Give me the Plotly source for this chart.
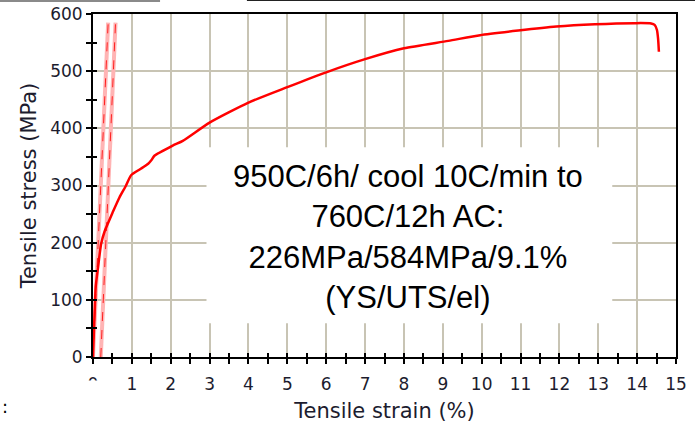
import plotly.graph_objects as go

# Main stress-strain curve
strain = [0, 0.02, 0.05, 0.07, 0.13, 0.21, 0.30, 0.38, 0.50, 0.68, 0.85, 0.98, 1.20, 1.42,
          1.50, 1.58, 2.06, 2.31, 3.0, 4.0, 5.0, 6.0, 7.0, 8.0, 9.14, 9.96, 10.94, 11.92,
          12.91, 13.93, 14.36, 14.45, 14.51, 14.54, 14.56]
stress = [0, 40, 90, 123, 157, 198, 220, 233, 252, 279, 300, 318, 328, 338,
          344, 352, 370, 378, 410, 445, 472, 498, 521, 540, 553, 563, 571, 578,
          582, 584, 583.5, 581, 572, 556, 534]

# Elastic (modulus) lines
lineA_x = [0.0, 0.39]
lineA_y = [0, 585]
lineB_x = [0.20, 0.58]
lineB_y = [0, 585]

x_ticks = list(range(0, 16))
y_ticks = [0, 100, 200, 300, 400, 500, 600]

label_text = "950C/6h/ cool 10C/min to<br>760C/12h AC:<br>226MPa/584MPa/9.1%<br>(YS/UTS/el)"

fig = go.Figure()
for lx, ly in [(lineA_x, lineA_y), (lineB_x, lineB_y)]:
    fig.add_trace(go.Scatter(x=lx, y=ly, mode="lines",
                             line=dict(color="#ffb4b4", width=4), hoverinfo="skip", showlegend=False))
    fig.add_trace(go.Scatter(x=lx, y=ly, mode="lines",
                             line=dict(color="#ff2020", width=1, dash="dash"), hoverinfo="skip", showlegend=False))
fig.add_trace(go.Scatter(x=strain, y=stress, mode="lines",
                         line=dict(color="#ff0000", width=2.5, shape="spline", smoothing=0.6),
                         showlegend=False))
# dummy trace for overlay axes (crossing ticks)
fig.add_trace(go.Scatter(x=[0], y=[0], xaxis="x2", yaxis="y2", mode="markers",
                         marker=dict(opacity=0), hoverinfo="skip", showlegend=False))

tickfont = dict(family="DejaVu Sans", size=17, color="#1c1c2e")
titlefont = dict(family="DejaVu Sans", size=21, color="#1c1c2e")
gridc = "#c8c4b4"

fig.update_layout(
    width=695, height=426,
    margin=dict(l=93, r=19, t=14, b=69),
    paper_bgcolor="white", plot_bgcolor="white",
    xaxis=dict(range=[0, 15], tickvals=x_ticks, ticktext=[str(v) for v in x_ticks],
               automargin=False,
               showgrid=True, gridcolor=gridc, gridwidth=2,
               showline=True, linecolor="black", linewidth=2, mirror=True,
               ticks="outside", ticklen=5, tickwidth=2, tickcolor="black",
               minor=dict(dtick=0.5, tick0=0, ticks="outside", ticklen=5, tickwidth=2,
                          tickcolor="black", showgrid=False),
               tickfont=tickfont, zeroline=False, ticklabelstandoff=6,
               title=dict(text="Tensile strain (%)", font=titlefont, standoff=10)),
    yaxis=dict(range=[0, 600], tickvals=y_ticks, automargin=False,
               showgrid=True, gridcolor=gridc, gridwidth=2,
               showline=True, linecolor="black", linewidth=2, mirror=True,
               ticks="outside", ticklen=5, tickwidth=2, tickcolor="black",
               minor=dict(dtick=50, tick0=0, ticks="outside", ticklen=5, tickwidth=2,
                          tickcolor="black", showgrid=False),
               tickfont=tickfont, zeroline=False,
               title=dict(text="Tensile stress (MPa)", font=titlefont, standoff=8)),
    xaxis2=dict(range=[0, 15], overlaying="x", anchor="y2", side="bottom", automargin=False,
                tickvals=x_ticks, showticklabels=False, showgrid=False, zeroline=False,
                ticks="inside", ticklen=4, tickwidth=2, tickcolor="black",
                minor=dict(dtick=0.5, tick0=0, ticks="inside", ticklen=4, tickwidth=2, tickcolor="black")),
    yaxis2=dict(range=[0, 600], overlaying="y", anchor="x2", side="left", automargin=False,
                tickvals=y_ticks, showticklabels=False, showgrid=False, zeroline=False,
                ticks="inside", ticklen=4, tickwidth=2, tickcolor="black",
                minor=dict(dtick=50, tick0=0, ticks="inside", ticklen=4, tickwidth=2, tickcolor="black")),
    shapes=[
        dict(type="rect", xref="x", yref="y", x0=2.92, x1=13.36, y0=59, y1=367,
             fillcolor="white", line=dict(width=0), layer="between"),
        dict(type="rect", xref="paper", yref="paper", x0=-0.1595, x1=0.115, y0=1.035, y1=1.041,
             fillcolor="#8a8a8a", line=dict(width=0), layer="above"),
        dict(type="rect", xref="paper", yref="paper", x0=0.264, x1=1.033, y0=1.038, y1=1.041,
             fillcolor="#222222", line=dict(width=0), layer="above"),
        dict(type="rect", xref="paper", yref="paper", x0=-0.0154, x1=0.017, y0=-0.12, y1=-0.0685,
             fillcolor="white", line=dict(width=0), layer="above"),
    ],
    annotations=[
        dict(x=8.1, y=210, xref="x", yref="y", text=label_text, showarrow=False,
             font=dict(family="Liberation Sans", size=31, color="black"), align="center"),
        dict(x=-0.16, y=-0.18, xref="paper", yref="paper", text=":", showarrow=False,
             font=dict(family="DejaVu Sans", size=18, color="black")),
    ],
)

fig.write_html("out.html", config={"displayModeBar": False},
               post_script="document.body.style.margin='0';document.body.style.overflow='hidden';")
